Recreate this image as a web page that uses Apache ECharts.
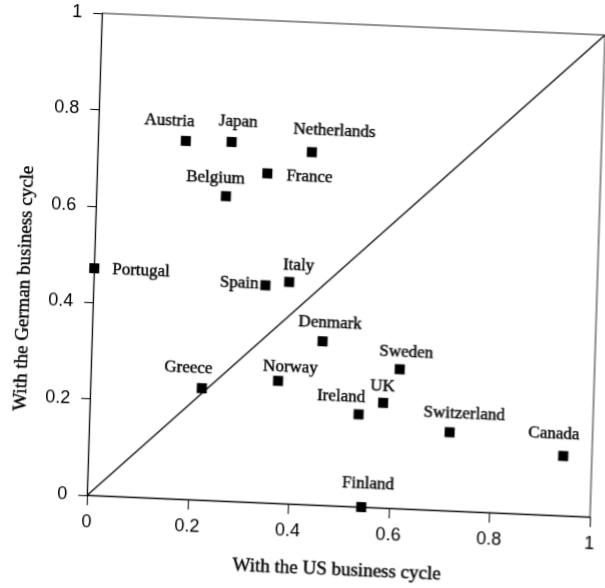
<!DOCTYPE html>
<html>
<head>
<meta charset="utf-8">
<script src="https://cdn.jsdelivr.net/npm/echarts@6/dist/echarts.min.js"></script>
<style>
  html, body { margin: 0; padding: 0; background: #fff; }
  #chart {
    width: 605px; height: 588px;
    transform-origin: 82px 495px;
    transform: matrix(1, 0.0433, -0.0311, 1, 0, 0);
  }
</style>
</head>
<body>
<div id="chart"></div>
<script>
// Countries and their business-cycle correlations
var countries = ['Austria', 'Japan', 'Netherlands', 'France', 'Belgium', 'Portugal',
  'Spain', 'Italy', 'Denmark', 'Sweden', 'Greece', 'Norway', 'UK', 'Ireland',
  'Switzerland', 'Canada', 'Finland'];
// correlation with the US business cycle
var withUS = [0.174, 0.265, 0.425, 0.338, 0.257, 0.0, 0.341, 0.388, 0.458, 0.613,
  0.221, 0.372, 0.582, 0.534, 0.716, 0.943, 0.545];
// correlation with the German business cycle
var withGermany = [0.743, 0.745, 0.731, 0.683, 0.632, 0.471, 0.451, 0.460, 0.340, 0.289,
  0.232, 0.254, 0.218, 0.192, 0.163, 0.124, 0.0];
var xTicks = [0, 0.2, 0.4, 0.6, 0.8, 1];
var yTicks = [0, 0.2, 0.4, 0.6, 0.8, 1];
var diagonal = [[0, 0], [1, 1]];

// label placement (style only): [position, offsetX, offsetY, distance]
var labelPlace = {
  Austria: ['inside', -17, -19], Japan: ['inside', 6, -20], Netherlands: ['inside', 22, -22],
  France: ['right', 0, 2, 14], Belgium: ['inside', -11, -18], Portugal: ['right', 0, 1, 13],
  Spain: ['left', 0, -1, 2], Italy: ['inside', 9, -17], Denmark: ['inside', 7, -19],
  Sweden: ['inside', 6, -17], Greece: ['inside', -14, -20], Norway: ['inside', 12, -14],
  UK: ['inside', -1, -16], Ireland: ['inside', -18, -17], Switzerland: ['inside', 14, -19],
  Canada: ['inside', -10, -22], Finland: ['inside', 6, -23]
};

var points = countries.map(function (c, i) {
  var p = labelPlace[c];
  return {
    name: c,
    value: [withUS[i], withGermany[i]],
    label: { position: p[0], offset: [p[1], p[2]], distance: p[3] || 5 }
  };
});

var serif = '"Liberation Serif", "DejaVu Serif", serif';
var sans = '"Liberation Sans", Arial, sans-serif';

var chart = echarts.init(document.getElementById('chart'), null, { renderer: 'canvas' });
chart.setOption({
  animation: false,
  backgroundColor: '#fff',
  grid: { left: 82, top: 13, width: 508, height: 482, show: true, borderColor: '#222', borderWidth: 1 },
  xAxis: {
    type: 'value', min: 0, max: 1, interval: 0.2,
    name: 'With the US business cycle', nameLocation: 'middle', nameGap: 55,
    nameTextStyle: { fontFamily: serif, fontSize: 19, color: '#000', textBorderColor: '#000', textBorderWidth: 0.4 },
    axisLine: { show: true, lineStyle: { color: '#000', width: 1 } },
    axisTick: { show: true, inside: false, length: 10, customValues: xTicks, lineStyle: { color: '#000' } },
    axisLabel: { customValues: xTicks, margin: 18, fontFamily: sans, fontSize: 18, color: '#000' },
    splitLine: { show: false }
  },
  yAxis: {
    type: 'value', min: 0, max: 1, interval: 0.2,
    name: 'With the German business cycle', nameLocation: 'middle', nameGap: 60, nameRotate: 90,
    nameTextStyle: { fontFamily: serif, fontSize: 19, color: '#000', textBorderColor: '#000', textBorderWidth: 0.4, padding: [0, 74, 0, 0] },
    axisLine: { show: true, lineStyle: { color: '#000', width: 1 } },
    axisTick: { show: true, inside: false, length: 9, customValues: yTicks, lineStyle: { color: '#000' } },
    axisLabel: { customValues: yTicks, margin: 20, fontFamily: sans, fontSize: 18, color: '#000' },
    splitLine: { show: false }
  },
  series: [
    {
      type: 'line',
      data: diagonal,
      symbol: 'none',
      silent: true,
      lineStyle: { color: '#000', width: 1.2 },
      z: 1
    },
    {
      type: 'scatter',
      data: points,
      symbol: 'rect',
      symbolSize: 10,
      itemStyle: { color: '#000', opacity: 1 },
      label: {
        show: true,
        formatter: '{b}',
        fontFamily: serif,
        fontSize: 17,
        color: '#000',
        textBorderColor: '#000',
        textBorderWidth: 0.4
      },
      z: 3
    }
  ]
});
</script>
</body>
</html>
